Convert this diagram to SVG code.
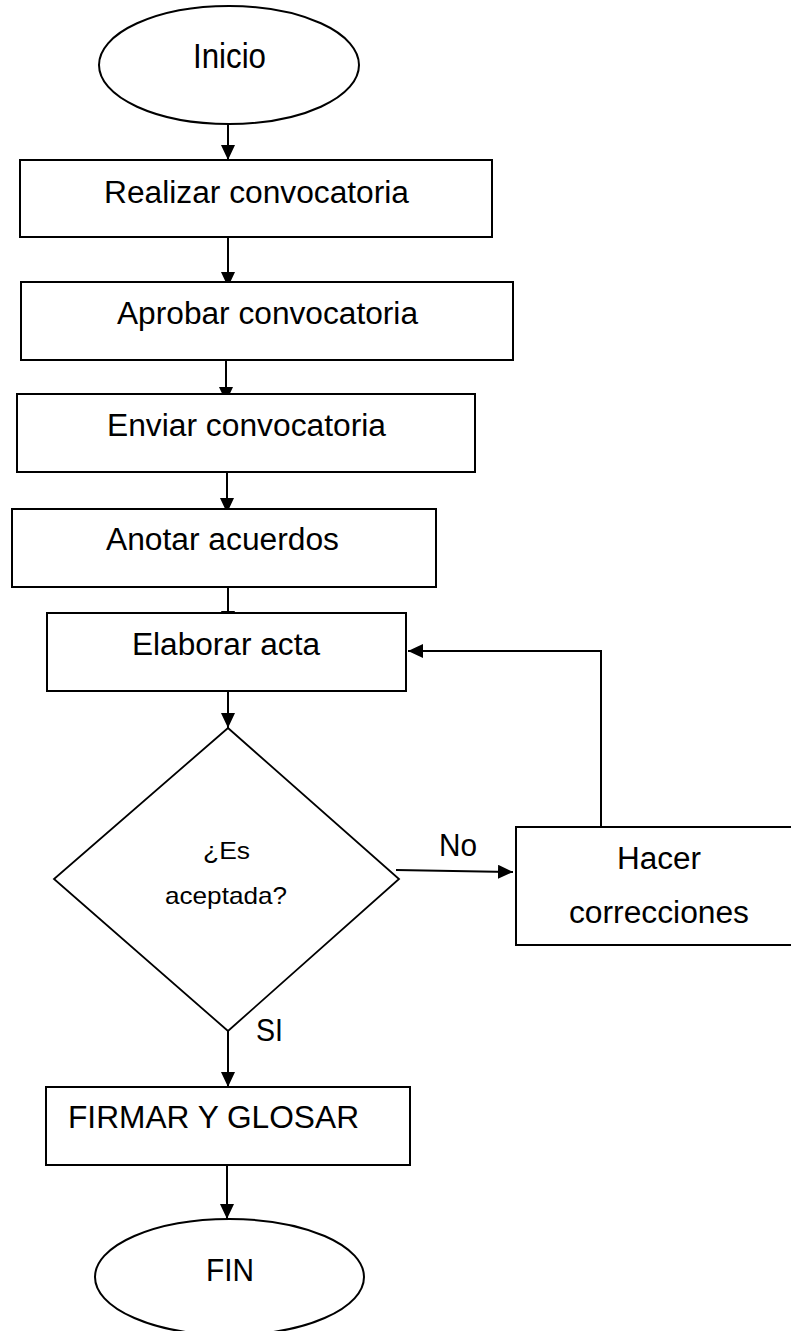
<svg xmlns="http://www.w3.org/2000/svg" width="791" height="1331" viewBox="0 0 791 1331">
<style>
.shape{fill:#fff;stroke:#000;stroke-width:2}
.dia{fill:#fff;stroke:#000;stroke-width:1.8}
.con{fill:none;stroke:#000;stroke-width:2}
text{font-family:"Liberation Sans",Arial,sans-serif;fill:#000}
</style>
<defs>
<marker id="ah" markerUnits="userSpaceOnUse" markerWidth="15" markerHeight="14" refX="15" refY="7" orient="auto">
<path d="M0,0 L15,7 L0,14 z" fill="#000"/>
</marker>
</defs>
<rect width="791" height="1331" fill="#fff"/>
<g id="connectors">
<line class="con" x1="228" y1="124" x2="228" y2="160" marker-end="url(#ah)"/>
<line class="con" x1="228" y1="237" x2="228" y2="287" marker-end="url(#ah)"/>
<line class="con" x1="226" y1="360" x2="226" y2="402" marker-end="url(#ah)"/>
<line class="con" x1="227" y1="472" x2="227" y2="513" marker-end="url(#ah)"/>
<line class="con" x1="228" y1="587" x2="228" y2="626" marker-end="url(#ah)"/>
<line class="con" x1="228" y1="691" x2="228" y2="728" marker-end="url(#ah)"/>
<line class="con" x1="396" y1="870" x2="513" y2="872" marker-end="url(#ah)"/>
<polyline class="con" points="601,827 601,651 408,651" marker-end="url(#ah)"/>
<line class="con" x1="228" y1="1031" x2="228" y2="1087" marker-end="url(#ah)"/>
<line class="con" x1="227" y1="1165" x2="227" y2="1219" marker-end="url(#ah)"/>
<text x="439" y="856" font-size="31" textLength="38" lengthAdjust="spacingAndGlyphs">No</text>
<text x="256" y="1041" font-size="31" textLength="27" lengthAdjust="spacingAndGlyphs">SI</text>
</g>
<g id="inicio">
<ellipse class="shape" cx="229" cy="65" rx="130" ry="59"/>
<text x="193" y="68" font-size="35" textLength="73" lengthAdjust="spacingAndGlyphs">Inicio</text>
</g>
<g id="realizar">
<rect class="shape" x="20" y="160" width="472" height="77"/>
<text x="104" y="203" font-size="31" textLength="305" lengthAdjust="spacingAndGlyphs">Realizar convocatoria</text>
</g>
<g id="aprobar">
<rect class="shape" x="21" y="282" width="492" height="78"/>
<text x="117" y="324" font-size="31" textLength="301" lengthAdjust="spacingAndGlyphs">Aprobar convocatoria</text>
</g>
<g id="enviar">
<rect class="shape" x="17" y="394" width="458" height="78"/>
<text x="107" y="436" font-size="31" textLength="279" lengthAdjust="spacingAndGlyphs">Enviar convocatoria</text>
</g>
<g id="anotar">
<rect class="shape" x="12" y="509" width="424" height="78"/>
<text x="106" y="550" font-size="31" textLength="233" lengthAdjust="spacingAndGlyphs">Anotar acuerdos</text>
</g>
<g id="elaborar">
<rect class="shape" x="47" y="613" width="359" height="78"/>
<text x="132" y="655" font-size="31" textLength="188" lengthAdjust="spacingAndGlyphs">Elaborar acta</text>
</g>
<g id="decision">
<polygon class="dia" points="228,728 399,879 228,1031 54,879"/>
<text x="203" y="859" font-size="24" textLength="47" lengthAdjust="spacingAndGlyphs">¿Es</text>
<text x="165" y="904" font-size="24" textLength="122" lengthAdjust="spacingAndGlyphs">aceptada?</text>
</g>
<g id="corregir">
<rect class="shape" x="516" y="827" width="278" height="118"/>
<text x="617" y="869" font-size="31" textLength="84" lengthAdjust="spacingAndGlyphs">Hacer</text>
<text x="569" y="923" font-size="31" textLength="180" lengthAdjust="spacingAndGlyphs">correcciones</text>
</g>
<g id="firmar">
<rect class="shape" x="46" y="1087" width="364" height="78"/>
<text x="68" y="1128" font-size="31" textLength="291" lengthAdjust="spacingAndGlyphs">FIRMAR Y GLOSAR</text>
</g>
<g id="fin">
<ellipse class="shape" cx="229.5" cy="1277" rx="134.5" ry="58"/>
<text x="206" y="1281" font-size="31" textLength="48" lengthAdjust="spacingAndGlyphs">FIN</text>
</g>
</svg>
